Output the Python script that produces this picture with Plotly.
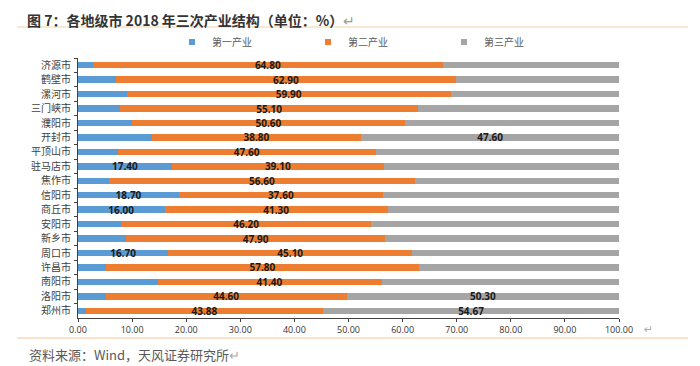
import plotly.graph_objects as go

cities = ["济源市", "鹤壁市", "漯河市", "三门峡市", "濮阳市", "开封市", "平顶山市", "驻马店市", "焦作市",
          "信阳市", "商丘市", "安阳市", "新乡市", "周口市", "许昌市", "南阳市", "洛阳市", "郑州市"]
primary = [2.7, 7.0, 9.0, 7.8, 9.9, 13.6, 7.4, 17.4, 5.7, 18.7, 16.0, 8.0, 8.9, 16.7, 5.2, 14.7, 5.1, 1.45]
secondary = [64.8, 62.9, 59.9, 55.1, 50.6, 38.8, 47.6, 39.1, 56.6, 37.6, 41.3, 46.2, 47.9, 45.1, 57.8, 41.4, 44.6, 43.88]
tertiary = [round(100 - a - b, 2) for a, b in zip(primary, secondary)]

# which labels are shown in the reference
show_primary = ["驻马店市", "信阳市", "商丘市", "周口市"]
show_tertiary = ["开封市", "洛阳市", "郑州市"]

series_names = ["第一产业", "第二产业", "第三产业"]
colors = ["#5B9BD5", "#ED7D31", "#A5A5A5"]
x_ticks = [0, 10, 20, 30, 40, 50, 60, 70, 80, 90, 100]

# page body has an 8px default margin; figure is drawn at (8, 8) in the window
OFF = 8
W, H = 700 - OFF, 366 - OFF
PL, PR, PT, PB = 78, 619, 58, 318  # plot area in window pixels
L, T = PL - OFF, PT - OFF
pw, ph = PR - PL, PB - PT
R = W - L - pw
B = H - T - ph


def px(xpix):
    return (xpix - PL) / pw


def py(ypix):
    return 1 - (ypix - PT) / ph


txt_primary = [f"{v:.2f}" if c in show_primary else "" for c, v in zip(cities, primary)]
txt_secondary = [f"{v:.2f}" for v in secondary]
txt_tertiary = [f"{v:.2f}" if c in show_tertiary else "" for c, v in zip(cities, tertiary)]

fig = go.Figure()
for name, vals, txt, col in zip(series_names, [primary, secondary, tertiary],
                                [txt_primary, txt_secondary, txt_tertiary], colors):
    fig.add_trace(go.Bar(
        y=cities, x=vals, orientation="h", name=name, marker=dict(color=col, line=dict(width=0)),
        text=txt, textposition="inside", insidetextanchor="middle", constraintext="none",
        textfont=dict(family="Open Sans, Noto Sans CJK SC", size=10, color="#1a1a1a", weight="bold"),
        showlegend=False, hoverinfo="skip",
    ))
    # small square legend markers
    fig.add_trace(go.Scatter(
        x=[None], y=[None], mode="markers", name=name,
        marker=dict(symbol="square", size=6, color=col), showlegend=True,
    ))

fig.update_layout(
    width=W, height=H,
    margin=dict(l=L, r=R, t=T, b=B, autoexpand=False),
    paper_bgcolor="white", plot_bgcolor="white",
    barmode="stack", bargap=0.56,
    font=dict(family="Noto Sans CJK SC", color="#595959"),
    legend=dict(orientation="h", x=px(172), xanchor="left", y=py(42), yanchor="middle",
                traceorder="normal",
                font=dict(family="Noto Sans CJK SC", size=10, color="#595959"),
                itemwidth=30, entrywidth=91, entrywidthmode="pixels",
                bgcolor="rgba(0,0,0,0)"),
    xaxis=dict(range=[0, 100], tickvals=x_ticks, ticktext=[f"{v:.2f}" for v in x_ticks],
               showgrid=False, zeroline=False, showline=True, linecolor="#404040", linewidth=1,
               ticks="outside", ticklen=3, tickcolor="#404040",
               tickfont=dict(family="Open Sans", size=9, color="#333333")),
    yaxis=dict(categoryorder="array", categoryarray=cities, autorange="reversed",
               showgrid=False, zeroline=False, showline=True, linecolor="#404040", linewidth=1,
               ticks="outside", ticklen=3, tickcolor="#404040", tickson="boundaries",
               ticklabelstandoff=4,
               tickfont=dict(family="Noto Sans CJK SC", size=10, color="#404040")),
    shapes=[
        dict(type="line", xref="paper", yref="paper", x0=px(17), x1=px(688), y0=py(27), y1=py(27),
             line=dict(color="#F4D3A8", width=1.2)),
        dict(type="line", xref="paper", yref="paper", x0=px(17), x1=px(688), y0=py(338), y1=py(338),
             line=dict(color="#F4C89A", width=1.2)),
    ],
    annotations=[
        dict(text="<b>图 7：各地级市 2018 年三次产业结构（单位：%）</b><span style='color:#999'>↵</span>",
             xref="paper", yref="paper", x=px(26), y=py(9), xanchor="left", yanchor="top",
             showarrow=False, borderpad=0,
             font=dict(family="Noto Sans CJK SC", size=14, color="#333333")),
        dict(text="资料来源：Wind，天风证券研究所<span style='color:#aaa'>↵</span>", xref="paper", yref="paper",
             x=px(27), y=py(354), xanchor="left", yanchor="middle", showarrow=False,
             font=dict(family="Noto Sans CJK SC", size=13, color="#595959")),
        dict(text="↵", xref="paper", yref="paper", x=px(648), y=py(329), xanchor="center", yanchor="middle",
             showarrow=False, font=dict(family="DejaVu Sans", size=11, color="#aaaaaa")),
    ],
)

fig.write_html("out.html")
